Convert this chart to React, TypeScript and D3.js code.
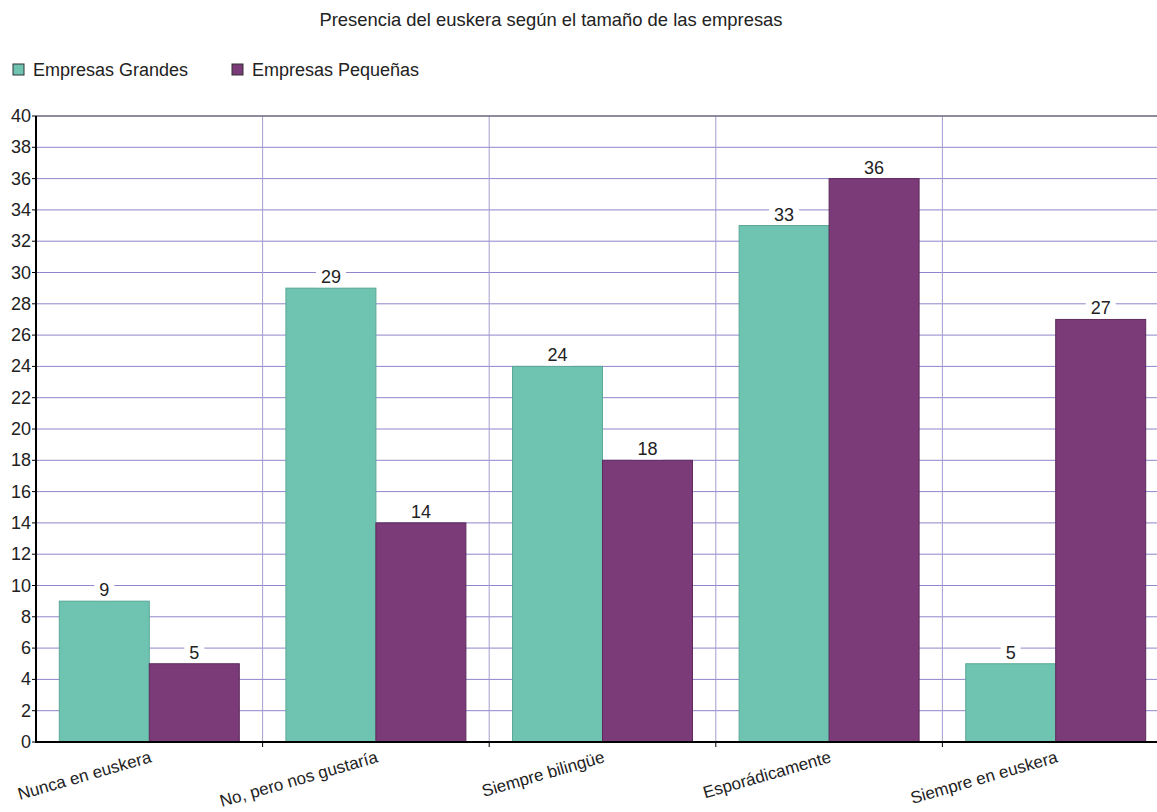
import React from "react";
import * as d3 from "d3";

const title = "Presencia del euskera según el tamaño de las empresas";
const categories = [
  "Nunca en euskera",
  "No, pero nos gustaría",
  "Siempre bilingüe",
  "Esporádicamente",
  "Siempre en euskera",
];
const seriesNames = ["Empresas Grandes", "Empresas Pequeñas"];
const grandes = [9, 29, 24, 33, 5];
const pequenas = [5, 14, 18, 36, 27];
const colors = ["#6fc3b1", "#7b3b78"];
const strokeColors = ["#5aa896", "#5e2a5c"];
const yTicks = d3.range(0, 41, 2);

const W = 1157;
const H = 812;
const left = 36;
const right = 1169;
const top = 116;
const bottom = 742;
const font = "'Liberation Sans', Arial, sans-serif";

export default function App() {
  const x0 = d3.scaleBand<string>().domain(categories).range([left, right]).padding(0);
  const x1 = d3
    .scaleBand<string>()
    .domain(seriesNames)
    .range([0, x0.bandwidth()])
    .paddingInner(0)
    .paddingOuter(0.259);
  const y = d3.scaleLinear().domain([0, 40]).range([bottom, top]);
  const series = [grandes, pequenas];

  return (
    <svg
      width={W}
      height={H}
      style={{ position: "absolute", left: 0, top: 0, background: "#fff" }}
      fontFamily={font}
    >
      <rect x={0} y={0} width={W} height={H} fill="#fff" />
      <text x={551} y={26} textAnchor="middle" fontSize={18.4} fill="#222">
        {title}
      </text>
      {/* legend */}
      {seriesNames.map((s, i) => {
        const lx = i === 0 ? 13 : 232;
        return (
          <g key={s}>
            <rect x={lx} y={64} width={11} height={11} fill={colors[i]} stroke="#333" strokeWidth={1} />
            <text x={lx + 20} y={76} fontSize={18} fill="#222">
              {s}
            </text>
          </g>
        );
      })}
      {/* grid */}
      {yTicks.map((t) => (
        <line key={"g" + t} x1={left} x2={right} y1={y(t)} y2={y(t)} stroke="#8f86cc" strokeWidth={1} />
      ))}
      {categories.map((c, i) =>
        i > 0 ? (
          <line key={"v" + c} x1={x0(c)!} x2={x0(c)!} y1={top} y2={bottom} stroke="#a89bd0" strokeWidth={1} />
        ) : null
      )}
      <line x1={left} x2={right} y1={top} y2={top} stroke="#555" strokeWidth={1} />
      {/* bars */}
      {categories.map((c, ci) =>
        series.map((vals, si) => {
          const bx = x0(c)! + x1(seriesNames[si])!;
          const v = vals[ci];
          return (
            <rect
              key={c + si}
              x={bx}
              y={y(v)}
              width={x1.bandwidth()}
              height={bottom - y(v)}
              fill={colors[si]}
              stroke={strokeColors[si]}
              strokeWidth={1}
            />
          );
        })
      )}
      {/* value labels */}
      {categories.map((c, ci) =>
        series.map((vals, si) => {
          const cx = x0(c)! + x1(seriesNames[si])! + x1.bandwidth() / 2;
          const v = vals[ci];
          const tw = String(v).length * 10 + 10;
          return (
            <g key={"l" + c + si}>
              <rect x={cx - tw / 2} y={y(v) - 22} width={tw} height={21} fill="#fff" />
              <text x={cx} y={y(v) - 5} textAnchor="middle" fontSize={18} fill="#222">
                {v}
              </text>
            </g>
          );
        })
      )}
      {/* axes */}
      <line x1={left} x2={right} y1={bottom} y2={bottom} stroke="#000" strokeWidth={2} />
      <line x1={left} x2={left} y1={top} y2={bottom + 1} stroke="#000" strokeWidth={2} />
      {yTicks.map((t) => (
        <g key={"t" + t}>
          <line x1={left - 4} x2={left} y1={y(t)} y2={y(t)} stroke="#000" />
          <text x={left - 5} y={y(t) + 6} textAnchor="end" fontSize={18} fill="#222">
            {t}
          </text>
        </g>
      ))}
      {categories.map((c, i) =>
        i > 0 ? (
          <line key={"xt" + c} x1={x0(c)!} x2={x0(c)!} y1={bottom} y2={bottom + 5} stroke="#000" />
        ) : null
      )}
      {categories.map((c) => {
        const cx = x0(c)! + x0.bandwidth() / 2;
        return (
          <text
            key={"xl" + c}
            transform={`translate(${cx + 3},${bottom + 20}) rotate(-16)`}
            textAnchor="end"
            fontSize={17}
            fill="#222"
          >
            {c}
          </text>
        );
      })}
    </svg>
  );
}
